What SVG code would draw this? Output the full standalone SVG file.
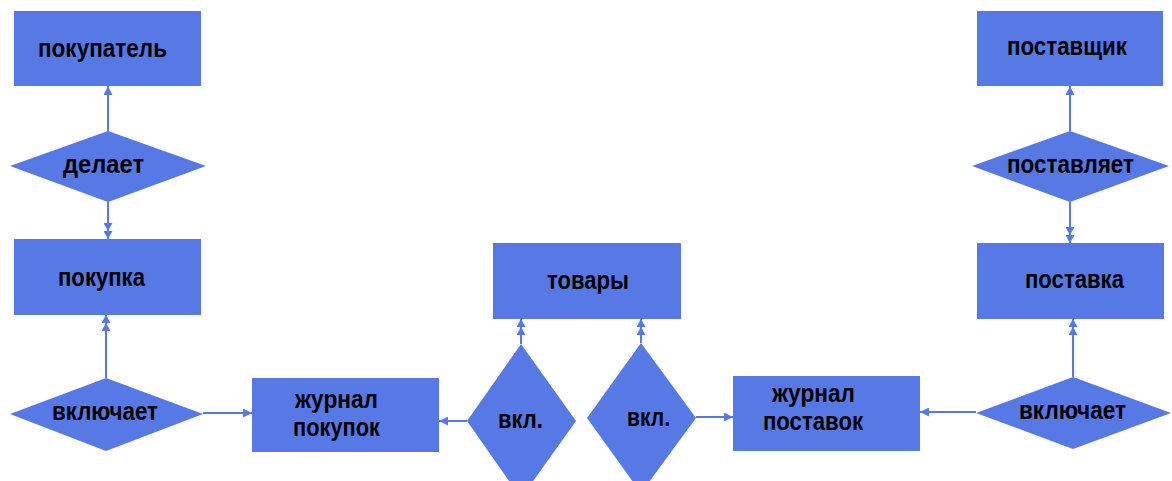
<svg xmlns="http://www.w3.org/2000/svg" width="1172" height="481" viewBox="0 0 1172 481">
<style>
.n{fill:#5679E6;}
.t{font-family:"Liberation Sans",Arial,sans-serif;font-weight:bold;font-size:26px;fill:#000;}
.c{stroke:#5679E6;stroke-width:2;fill:none;}
</style>
<defs>
<marker id="one" viewBox="0 0 9 9" refX="9" refY="4.5" markerWidth="9" markerHeight="9" markerUnits="userSpaceOnUse" orient="auto">
<path d="M0,0 L9,4.5 L0,9 z" fill="#5679E6"/>
</marker>
<marker id="two" viewBox="0 0 16 9" refX="16" refY="4.5" markerWidth="16" markerHeight="9" markerUnits="userSpaceOnUse" orient="auto">
<path d="M0,0 L8,4.5 L0,9 z M8,0 L16,4.5 L8,9 z" fill="#5679E6"/>
</marker>
</defs>
<rect width="1172" height="481" fill="#fff"/>
<g id="connectors">
<line class="c" x1="108" y1="131" x2="108" y2="86" marker-end="url(#one)"/>
<line class="c" x1="108" y1="202" x2="108" y2="239" marker-end="url(#two)"/>
<line class="c" x1="106" y1="378" x2="106" y2="315" marker-end="url(#two)"/>
<line class="c" x1="203" y1="413" x2="252" y2="413" marker-end="url(#one)"/>
<line class="c" x1="467" y1="421" x2="439" y2="421" marker-end="url(#one)"/>
<line class="c" x1="521" y1="344" x2="521" y2="319" marker-end="url(#two)"/>
<line class="c" x1="641" y1="343" x2="641" y2="319" marker-end="url(#two)"/>
<line class="c" x1="696" y1="417" x2="733" y2="417" marker-end="url(#one)"/>
<line class="c" x1="976" y1="412" x2="920" y2="412" marker-end="url(#one)"/>
<line class="c" x1="1073" y1="377" x2="1073" y2="319" marker-end="url(#two)"/>
<line class="c" x1="1070" y1="131" x2="1070" y2="86" marker-end="url(#one)"/>
<line class="c" x1="1070" y1="202" x2="1070" y2="243" marker-end="url(#two)"/>
</g>
<g id="pokupatel">
<rect class="n" x="14" y="11" width="187" height="75"/>
<text class="t" x="38" y="57" textLength="129" lengthAdjust="spacingAndGlyphs">покупатель</text>
</g>
<g id="delaet">
<polygon class="n" points="108,131 206,166 108,202 10,166"/>
<text class="t" x="63" y="173" textLength="81" lengthAdjust="spacingAndGlyphs">делает</text>
</g>
<g id="pokupka">
<rect class="n" x="14" y="239" width="187" height="76"/>
<text class="t" x="58" y="286" textLength="87" lengthAdjust="spacingAndGlyphs">покупка</text>
</g>
<g id="vklyuchaet1">
<polygon class="n" points="106,378 203,414 106,451 10,414"/>
<text class="t" x="52" y="420" textLength="106" lengthAdjust="spacingAndGlyphs">включает</text>
</g>
<g id="zhurnal-pokupok">
<rect class="n" x="252" y="378" width="187" height="74"/>
<text class="t" x="295" y="408" textLength="83" lengthAdjust="spacingAndGlyphs">журнал</text>
<text class="t" x="293" y="436" textLength="87" lengthAdjust="spacingAndGlyphs">покупок</text>
</g>
<g id="tovary">
<rect class="n" x="493" y="243" width="188" height="76"/>
<text class="t" x="547" y="289" textLength="82" lengthAdjust="spacingAndGlyphs">товары</text>
</g>
<g id="vkl1">
<polygon class="n" points="521,344 576,421 521,498 467,421"/>
<text class="t" x="498" y="428" textLength="45" lengthAdjust="spacingAndGlyphs">вкл.</text>
</g>
<g id="vkl2">
<polygon class="n" points="641,343 696,418 641,493 587,418"/>
<text class="t" x="627" y="426" textLength="43" lengthAdjust="spacingAndGlyphs">вкл.</text>
</g>
<g id="zhurnal-postavok">
<rect class="n" x="733" y="376" width="187" height="75"/>
<text class="t" x="772" y="402" textLength="83" lengthAdjust="spacingAndGlyphs">журнал</text>
<text class="t" x="763" y="430" textLength="100" lengthAdjust="spacingAndGlyphs">поставок</text>
</g>
<g id="vklyuchaet2">
<polygon class="n" points="1073,377 1171,413 1073,449 976,413"/>
<text class="t" x="1019" y="419" textLength="107" lengthAdjust="spacingAndGlyphs">включает</text>
</g>
<g id="postavka">
<rect class="n" x="977" y="243" width="187" height="76"/>
<text class="t" x="1025" y="288" textLength="99" lengthAdjust="spacingAndGlyphs">поставка</text>
</g>
<g id="postavlyaet">
<polygon class="n" points="1070,131 1169,166 1070,202 972,166"/>
<text class="t" x="1007" y="173" textLength="127" lengthAdjust="spacingAndGlyphs">поставляет</text>
</g>
<g id="postavshchik">
<rect class="n" x="977" y="11" width="186" height="75"/>
<text class="t" x="1007" y="55" textLength="120" lengthAdjust="spacingAndGlyphs">поставщик</text>
</g>
</svg>
